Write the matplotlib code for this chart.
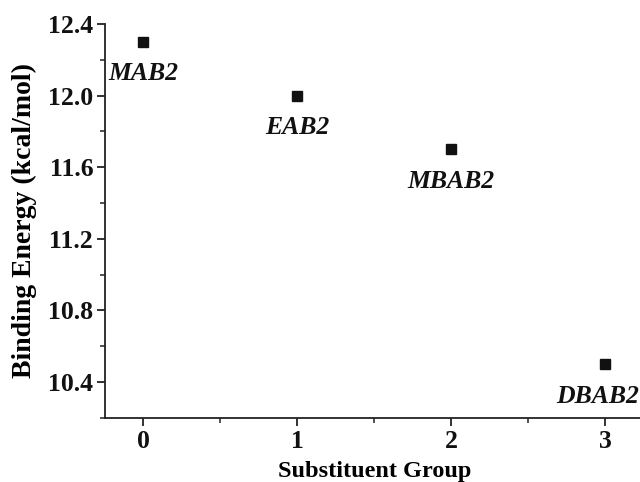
import matplotlib
matplotlib.use("Agg")
import matplotlib.pyplot as plt
from matplotlib.ticker import MultipleLocator, FormatStrFormatter

plt.rcParams['font.family'] = ['Liberation Serif', 'DejaVu Serif']

groups = [0, 1, 2, 3]
energies = [12.3, 12.0, 11.7, 10.5]
names = ["MAB2", "EAB2", "MBAB2", "DBAB2"]

fig = plt.figure(figsize=(6.4, 4.82), dpi=100)
ax = fig.add_axes([0.164, 0.133, 0.8415, 0.817])

ax.plot(groups, energies, linestyle='none', marker='s', markersize=7,
        color='#111111')
for i, (x, y, name) in enumerate(zip(groups, energies, names)):
    # pull the last label slightly inward so it stays inside the figure
    dx = -5.5 if i == len(names) - 1 else 0
    ax.annotate(name, (x, y), xytext=(dx, -23), textcoords='offset points',
                ha='center', va='center', fontsize=18.5, fontweight='bold',
                fontstyle='italic', color='#111111')

ax.set_xlim(-0.25, 3.25)
ax.set_ylim(10.2, 12.4)
ax.xaxis.set_major_locator(MultipleLocator(1))
ax.xaxis.set_minor_locator(MultipleLocator(0.5))
ax.yaxis.set_major_locator(MultipleLocator(0.4))
ax.yaxis.set_minor_locator(MultipleLocator(0.2))
ax.yaxis.set_major_formatter(FormatStrFormatter('%.1f'))

for side in ('top', 'right'):
    ax.spines[side].set_visible(False)
for side in ('left', 'bottom'):
    ax.spines[side].set_linewidth(1.3)
    ax.spines[side].set_color('#222222')

ax.tick_params(which='major', direction='out', length=5.5, width=1.3,
               labelsize=18.5, colors='#222222', labelcolor='#111111', pad=3)
ax.tick_params(which='minor', direction='out', length=3.5, width=1.1,
               colors='#222222')
for lbl in ax.get_xticklabels() + ax.get_yticklabels():
    lbl.set_fontweight('bold')

ax.set_xlabel('Substituent Group', fontsize=17.5, fontweight='bold', labelpad=6)
ax.set_ylabel('Binding Energy (kcal/mol)', fontsize=20, fontweight='bold',
              labelpad=8)

fig.savefig('out.png', dpi=100)
